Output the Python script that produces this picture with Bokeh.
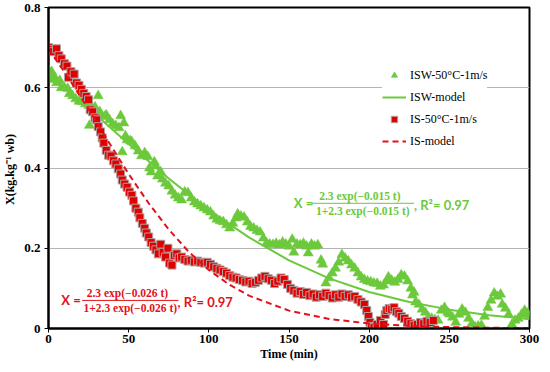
from bokeh.plotting import figure
from bokeh.models import ColumnDataSource, Range1d, FixedTicker, Label, Legend, LegendItem
from bokeh.embed import file_html
from bokeh.resources import INLINE

# ---------------- data ----------------
is_t = [0, 1.5, 3, 5, 6.5, 8, 10, 11.5, 12.5, 14, 16, 17.5, 19, 20.5, 22, 23.5, 25, 26, 27.5, 29,
        30, 31, 32.5, 33.5, 34.5, 36, 37.5, 39, 40.5, 42, 43.5, 45, 46, 47.5, 49, 50.5, 52, 53, 54.5, 56,
        57, 58.5, 60, 61, 62.5, 64, 65.5, 67, 68.5, 70, 71.5, 73, 74.5, 75.5, 77, 78.5, 80, 81.5, 83, 85,
        87, 89, 91, 93, 95, 97, 99, 101, 103, 105, 107, 109, 111, 113, 115, 117, 119, 121, 123, 125,
        127, 129, 131, 133, 135, 137, 139, 141, 143, 145, 147, 149, 151, 153, 155, 157, 159, 161, 163, 165,
        167, 169, 171, 173, 175, 177, 179, 181, 183, 185, 187, 189, 191, 193, 195, 197, 198.5, 199.5, 200.5, 201.5,
        203, 205, 207, 209, 210, 211, 212.5, 214, 215.5, 217, 218.5, 220, 222, 224, 226, 228, 230, 232, 234, 236,
        238, 240]
is_x = [0.700, 0.695, 0.690, 0.697, 0.680, 0.672, 0.660, 0.654, 0.626, 0.640, 0.634, 0.612, 0.606, 0.596, 0.586, 0.578, 0.570, 0.545, 0.540, 0.525,
        0.520, 0.503, 0.490, 0.475, 0.462, 0.444, 0.432, 0.430, 0.418, 0.410, 0.398, 0.385, 0.370, 0.360, 0.352, 0.340, 0.332, 0.318, 0.300, 0.290,
        0.276, 0.262, 0.250, 0.238, 0.228, 0.214, 0.205, 0.196, 0.186, 0.210, 0.190, 0.178, 0.200, 0.163, 0.158, 0.182, 0.186, 0.176, 0.178, 0.172,
        0.168, 0.170, 0.166, 0.168, 0.165, 0.163, 0.165, 0.160, 0.154, 0.150, 0.146, 0.142, 0.138, 0.132, 0.128, 0.126, 0.122, 0.120, 0.116, 0.118,
        0.112, 0.115, 0.120, 0.126, 0.130, 0.124, 0.120, 0.112, 0.118, 0.126, 0.122, 0.110, 0.100, 0.095, 0.088, 0.092, 0.085, 0.090, 0.082, 0.086,
        0.078, 0.084, 0.080, 0.088, 0.082, 0.076, 0.084, 0.078, 0.086, 0.080, 0.084, 0.078, 0.080, 0.072, 0.066, 0.060, 0.045, 0.030, 0.015, 0.005,
        0.002, 0.010, 0.020, 0.010, 0.035, 0.045, 0.050, 0.048, 0.052, 0.042, 0.038, 0.030, 0.025, 0.018, 0.012, 0.008, 0.010, 0.015, 0.012, 0.018,
        0.015, 0.020]

isw_t = [0, 1, 2, 3, 4, 5, 7, 8, 10, 12, 13, 15, 17, 19, 21, 23, 25, 25.5, 27, 29,
         31, 32, 33, 35, 36, 38, 40, 42, 44, 45, 46, 47, 48, 49, 51, 52, 54, 56, 58, 60,
         62, 63, 64, 66, 67, 68, 70, 71, 73, 75, 77, 79, 81, 83, 85, 87, 89, 91, 93, 95,
         97, 99, 101, 103, 105, 107, 109, 111, 113, 115, 117, 118, 120, 122, 124, 126, 128, 130, 132, 134,
         136, 138, 140, 142, 144, 146, 148, 150, 152, 153, 155, 157, 159, 161, 162, 164, 166, 168, 170, 171,
         173, 175, 177, 179, 181, 183, 185, 187, 189, 191, 193, 195, 197, 199, 201, 203, 205, 207, 209, 211,
         212, 214, 216, 218, 220, 222, 224, 226, 227, 228, 229, 231, 233, 235, 237, 239, 241, 243, 245, 247,
         249, 250, 252, 254, 256, 258, 260, 262, 264, 266, 268, 270, 272, 274, 276, 278, 280, 282, 283, 285,
         287, 289, 291, 293, 295, 297, 299, 300]
isw_x = [0.644, 0.630, 0.640, 0.620, 0.625, 0.612, 0.618, 0.600, 0.600, 0.598, 0.585, 0.580, 0.572, 0.566, 0.565, 0.560, 0.556, 0.506, 0.550, 0.552,
         0.580, 0.540, 0.530, 0.528, 0.532, 0.520, 0.510, 0.505, 0.500, 0.530, 0.440, 0.512, 0.480, 0.470, 0.468, 0.465, 0.455, 0.442, 0.430, 0.438,
         0.428, 0.400, 0.390, 0.415, 0.405, 0.380, 0.390, 0.372, 0.362, 0.355, 0.342, 0.332, 0.325, 0.320, 0.340, 0.338, 0.325, 0.315, 0.310, 0.305,
         0.300, 0.295, 0.290, 0.280, 0.272, 0.268, 0.266, 0.258, 0.250, 0.262, 0.275, 0.285, 0.280, 0.277, 0.265, 0.254, 0.250, 0.244, 0.240, 0.225,
         0.213, 0.210, 0.209, 0.212, 0.208, 0.215, 0.210, 0.205, 0.222, 0.190, 0.210, 0.208, 0.212, 0.205, 0.188, 0.210, 0.205, 0.208, 0.170, 0.160,
         0.113, 0.126, 0.138, 0.150, 0.165, 0.184, 0.175, 0.168, 0.158, 0.150, 0.138, 0.128, 0.122, 0.118, 0.116, 0.113, 0.112, 0.105, 0.108, 0.118,
         0.128, 0.120, 0.115, 0.122, 0.133, 0.130, 0.118, 0.100, 0.083, 0.090, 0.066, 0.060, 0.048, 0.040, 0.028, 0.025, 0.022, 0.020, 0.045, 0.052,
         0.040, 0.036, 0.028, 0.015, 0.035, 0.048, 0.040, 0.025, 0.012, 0.004, 0.006, 0.008, 0.030, 0.052, 0.070, 0.088, 0.080, 0.085, 0.060, 0.050,
         0.035, 0.010, 0.020, 0.025, 0.035, 0.045, 0.038, 0.030]

# model curves
isw_model_t = [0, 25, 50, 75, 100, 125, 150, 175, 200, 225, 250, 275, 300]
isw_model_x = [0.635, 0.549, 0.460, 0.374, 0.295, 0.227, 0.170, 0.125, 0.091, 0.066, 0.047, 0.033, 0.0235]
is_model_t = [0, 12.5, 25, 37.5, 50, 62.5, 75, 87.5, 100, 112.5, 125, 150, 175, 200, 225, 250, 275, 300]
is_model_x = [0.697, 0.624, 0.546, 0.465, 0.385, 0.312, 0.247, 0.191, 0.146, 0.110, 0.082, 0.0445, 0.0237, 0.0125, 0.0066, 0.0035, 0.0018, 0.001]

x_ticks = [0, 50, 100, 150, 200, 250, 300]
y_ticks = [0, 0.2, 0.4, 0.6, 0.8]
y_tick_labels = ["0", "0.2", "0.4", "0.6", "0.8"]

labels = ["ISW-50°C-1m/s", "ISW-model", "IS-50°C-1m/s", "IS-model"]

GREEN = "#6cc93c"
RED = "#e3121a"
SERIF = "Liberation Serif"

p = figure(width=540, height=363, output_backend="svg", toolbar_location=None,
           x_range=Range1d(0, 300), y_range=Range1d(0, 0.8),
           min_border_left=41, min_border_right=11, min_border_top=7, min_border_bottom=34)
p.background_fill_color = "white"
p.border_fill_color = "white"
p.outline_line_color = "black"
p.outline_line_width = 2

# grids
p.xgrid.visible = False
p.ygrid.ticker = FixedTicker(ticks=[0.2, 0.4, 0.6])
p.ygrid.grid_line_color = "#b4b4b4"
p.ygrid.grid_line_width = 1

# axes
for ax in (p.xaxis[0], p.yaxis[0]):
    ax.axis_line_color = "black"
    ax.axis_line_width = 2
    ax.major_tick_line_color = "black"
    ax.major_tick_line_width = 1
    ax.major_tick_out = 4
    ax.major_tick_in = 0
    ax.minor_tick_line_color = None
    ax.major_label_text_font = SERIF
    ax.major_label_text_font_style = "bold"
    ax.major_label_text_font_size = "13px"
    ax.major_label_text_color = "black"
    ax.axis_label_text_font = SERIF
    ax.axis_label_text_font_style = "bold"
    ax.axis_label_text_font_size = "12px"
    ax.axis_label_text_color = "black"

p.xaxis.ticker = FixedTicker(ticks=x_ticks)
p.yaxis.ticker = FixedTicker(ticks=y_ticks)
p.yaxis.major_label_overrides = {t: l for t, l in zip(y_ticks, y_tick_labels)}
p.xaxis.axis_label = "Time (min)"
p.yaxis.axis_label = "X(kg.kg\u207b\u00b9  wb)"
p.xaxis.major_label_standoff = 2
p.xaxis.axis_label_standoff = 1
p.yaxis.major_label_standoff = 4
p.yaxis.axis_label_standoff = 4

# data
src_isw = ColumnDataSource(dict(t=isw_t, x=isw_x))
src_is = ColumnDataSource(dict(t=is_t, x=is_x))

r_isw = p.scatter("t", "x", source=src_isw, marker="triangle", size=10,
                  fill_color=GREEN, line_color=GREEN, line_width=0.5)
r_iswm = p.line(isw_model_t, isw_model_x, line_color=GREEN, line_width=2)
r_is = p.scatter("t", "x", source=src_is, marker="square", size=8,
                 fill_color="#e00000", line_color="#b0a0a0", line_width=1)
r_ism = p.line(is_model_t, is_model_x, line_color=RED, line_width=2, line_dash="6 4")

legend = Legend(items=[LegendItem(label=labels[0], renderers=[r_isw]),
                       LegendItem(label=labels[1], renderers=[r_iswm]),
                       LegendItem(label=labels[2], renderers=[r_is]),
                       LegendItem(label=labels[3], renderers=[r_ism])],
                location=(334, 179))
legend.label_text_font = SERIF
legend.label_text_font_size = "12px"
legend.label_text_color = "black"
legend.border_line_color = None
legend.background_fill_color = "white"
legend.background_fill_alpha = 1
legend.glyph_width = 24
legend.glyph_height = 16
legend.label_height = 16
legend.spacing = 6
legend.padding = 4
legend.label_standoff = 4
p.add_layout(legend)

# equation annotations
def eq(x_lab, y_mid, num_x, num, den, line_x0, line_x1, r_x, color, dy=0.019):
    p.add_layout(Label(x=x_lab, y=y_mid, text="X =", text_font="Lato", text_font_style="bold",
                       text_font_size="13px", text_color=color, text_baseline="middle"))
    p.add_layout(Label(x=num_x, y=y_mid + dy, text=num, text_font=SERIF, text_font_style="bold",
                       text_font_size="11.5px", text_color=color, text_align="center", text_baseline="middle"))
    p.add_layout(Label(x=num_x, y=y_mid - dy, text=den, text_font=SERIF, text_font_style="bold",
                       text_font_size="11.5px", text_color=color, text_align="center", text_baseline="middle"))
    p.segment(x0=[line_x0], y0=[y_mid], x1=[line_x1], y1=[y_mid], line_color=color, line_width=1)
    p.add_layout(Label(x=r_x, y=y_mid - 0.004, text=", R\u00b2= 0.97", text_font="Lato", text_font_style="bold",
                       text_font_size="13px", text_color=color, text_baseline="middle"))

eq(8.0, 0.070, 51.0, "2.3  exp(\u22120.026  t)", "1+2.3 exp(\u22120.026 t)", 21.0, 81.0, 80.5, RED)
eq(153.0, 0.312, 196.0, "2.3  exp(\u22120.015  t)", "1+2.3 exp(\u22120.015 t)", 164.0, 228.0, 228.0, GREEN)

open("out.html", "w").write(file_html(p, INLINE))
